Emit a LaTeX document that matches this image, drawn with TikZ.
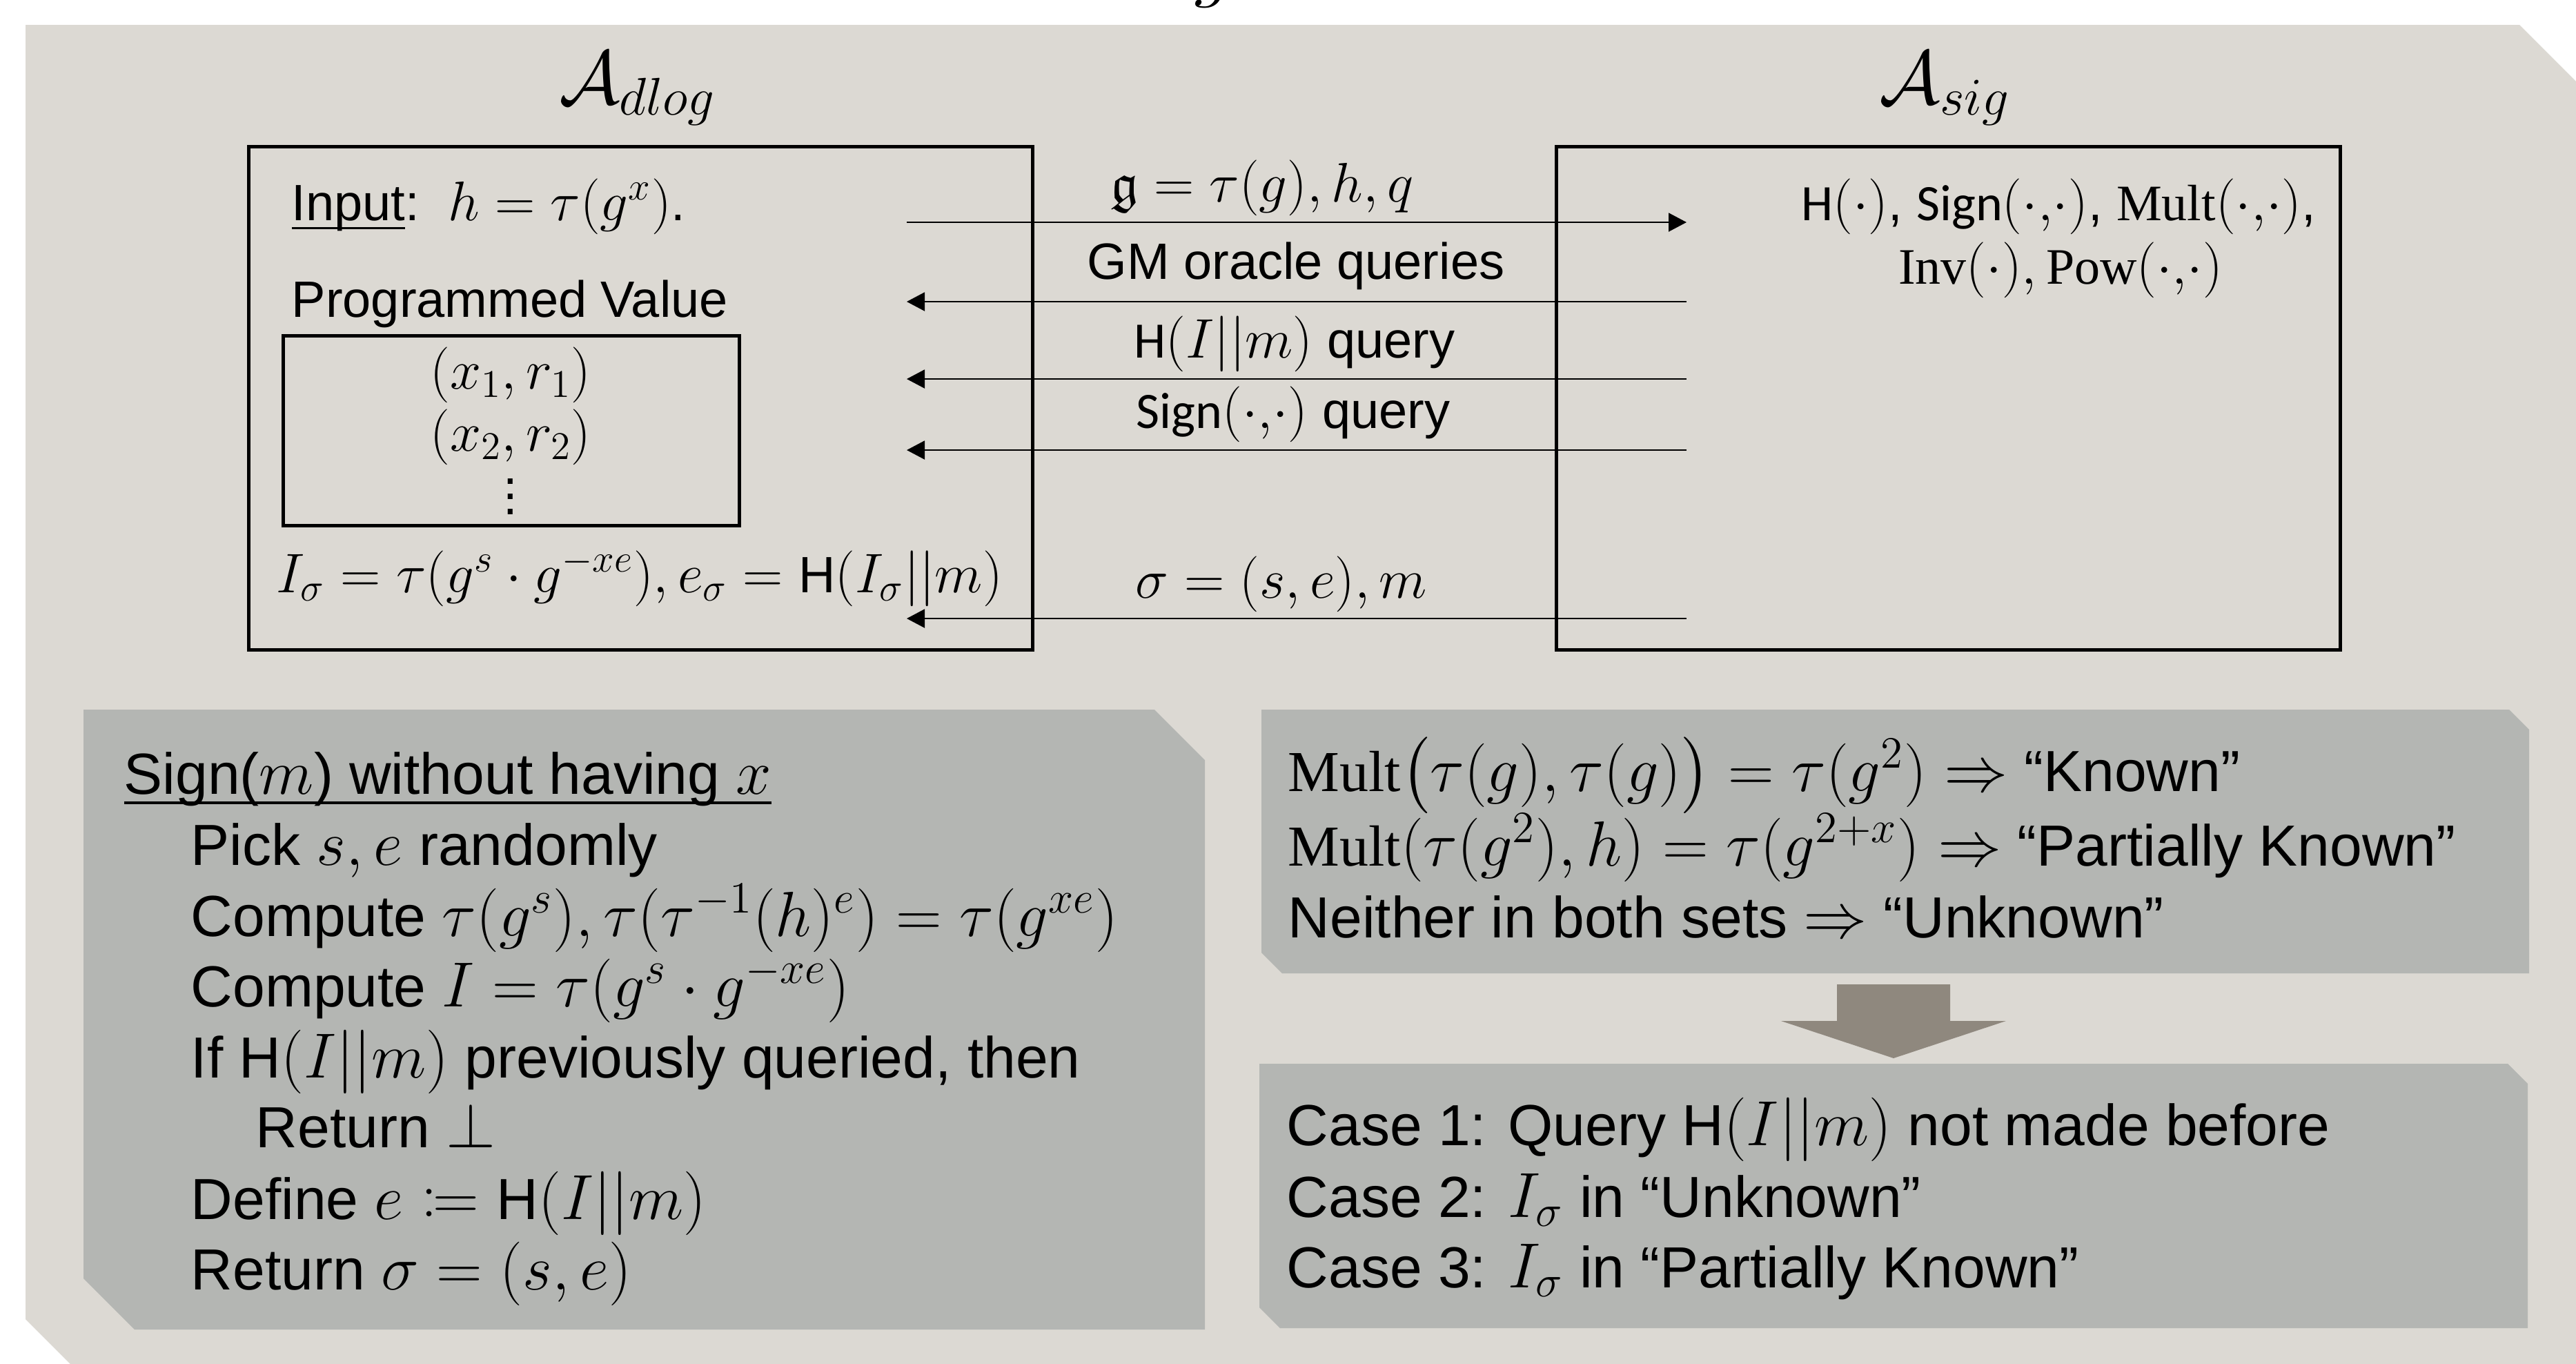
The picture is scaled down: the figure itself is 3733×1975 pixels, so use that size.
\RequirePackage{fix-cm}
\documentclass[tikz,border=0pt]{standalone}
\usepackage{amssymb}
\usepackage{mathtools}
\usepackage[no-math]{fontspec}
\setmainfont{Liberation Sans}
\newfontfamily\calibri{Carlito}
\newfontfamily\serifup{Liberation Serif}
\usetikzlibrary{arrows.meta,fit,calc}
\definecolor{panelbg}{RGB}{220,217,211}
\definecolor{boxgray}{RGB}{180,182,179}
\definecolor{bigarrow}{RGB}{143,136,126}
% formulas are set a little larger than the surrounding words
\DeclareMathSizes{18.5}{20.2}{14.2}{10.1}
\DeclareMathSizes{21}{23.1}{16.2}{11.6}
\DeclareMathSizes{25}{27.5}{19.2}{13.8}
% upright operation names inside formulas
\newcommand\opname[1]{\mathord{\text{\serifup #1}}}
% two-argument placeholder without space after the comma
\newcommand\twoargs{(\cdot{,}\cdot)}
% three stacked dots, spaced for the large type
\newcommand\dotcol{\vbox{\baselineskip=5.5pt\lineskiplimit=0pt\hbox{.}\hbox{.}\hbox{.}}}

\begin{document}
\begin{tikzpicture}[x=0.25pt,y=-0.25pt,
  txt/.style={inner sep=0pt, font=\fontsize{18.5}{22}\selectfont},
  bigtxt/.style={inner sep=0pt, font=\fontsize{21}{25}\selectfont},
  headtxt/.style={inner sep=0pt, font=\fontsize{25}{30}\selectfont},
  boxframe/.style={draw, line width=1.25pt, inner sep=0pt},
  msg/.style={line width=0.5pt, -{Triangle[length=6.5pt,width=6.75pt]}},
]
\useasboundingbox (0,0) rectangle (3733,1975);
\fill[white] (0,0) rectangle (3733,1975);

% descender of a heading letter above the frame
\node[headtxt, anchor=base] (cutg) at (1758,-11) {$g$};

% light background panel with two snipped corners
\fill[panelbg] (37,36) -- (3651,36) -- (3851,236) -- (3851,2100)
  -- (226,2100) -- (37,1911) -- cycle;

% grey panels
\fill[boxgray] (121,1028) -- (1673,1028) -- (1746,1101) -- (1746,1926)
  -- (195,1926) -- (121,1852) -- cycle;
\fill[boxgray] (1828,1028) -- (3636,1028) -- (3665,1057) -- (3665,1410)
  -- (1858,1410) -- (1828,1380) -- cycle;
\fill[boxgray] (1825,1541) -- (3634,1541) -- (3663,1570) -- (3663,1924)
  -- (1855,1924) -- (1825,1894) -- cycle;

% block arrow between the right panels
\fill[bigarrow] (2662,1426) -- (2826,1426) -- (2826,1479) -- (2907,1479)
  -- (2744,1533) -- (2581,1479) -- (2662,1479) -- cycle;

% headings
\node[headtxt, anchor=base] (tdlog) at (924,150) {$\mathcal{A}_{dlog}$};
\node[headtxt, anchor=base] (tsig) at (2818,150) {$\mathcal{A}_{sig}$};

% the two adversary boxes
\node[boxframe, fit={(360,212) (1496,941)}] (dlog) {};
\node[boxframe, fit={(2255,212) (3391,941)}] (sig) {};
\node[boxframe, fit={(410,486) (1071,761)}] (pv) {};

% contents of the left box
\node[txt, anchor=base west] (inp) at (422,319) {\underline{\smash{Input}}:\ \ $h = \tau(g^x)$.};
\node[txt, anchor=base west] (pvt) at (422,459) {Programmed Value};
\node[txt, anchor=base] (p1) at (740,563) {$(x_1,r_1)$};
\node[txt, anchor=base] (p2) at (740,653) {$(x_2,r_2)$};
\node[txt, anchor=center] (p3) at (740,720) {\dotcol};
\node[txt, anchor=base west] (isig) at (400,858)
  {$I_\sigma = \tau(g^s\cdot g^{-xe}), e_\sigma = {}$H$(I_\sigma||m)$};

% contents of the right box
\node[txt, anchor=base] (ops1) at (2983,319)
  {{\calibri H}$(\cdot)$, {\calibri Sign}$\twoargs$, $\opname{Mult}\twoargs$,};
\node[txt, anchor=base] (ops2) at (2986,411)
  {$\opname{Inv}(\cdot), \opname{Pow}\twoargs$};

% message end points
\coordinate (m1l) at (1314,322); \coordinate (m1r) at (2444,322);
\coordinate (m2l) at (1314,437); \coordinate (m2r) at (2444,437);
\coordinate (m3l) at (1314,549); \coordinate (m3r) at (2444,549);
\coordinate (m4l) at (1314,652); \coordinate (m4r) at (2444,652);
\coordinate (m5l) at (1314,896); \coordinate (m5r) at (2444,896);

\draw[msg] (m1l) -- (m1r);
\draw[msg] (m2r) -- (m2l);
\draw[msg] (m3r) -- (m3l);
\draw[msg] (m4r) -- (m4l);
\draw[msg] (m5r) -- (m5l);

\node[txt, anchor=base] (lab1) at (1829,292) {$\mathfrak{g} = \tau(g), h, q$};
\node[txt, anchor=base] (lab2) at (1878,404) {GM oracle queries};
\node[txt, anchor=base] (lab3) at (1876,518) {{\calibri H}$(I||m)$ query};
\node[txt, anchor=base] (lab4) at (1874,620) {{\calibri Sign}$\twoargs$ query};
\node[txt, anchor=base] (lab5) at (1857,866) {$\sigma = (s,e), m$};

% signing simulation
\node[bigtxt, anchor=base west] (s1) at (179,1150) {\underline{\smash{Sign($m$) without having $x$}}};
\node[bigtxt, anchor=base west] (s2) at (276,1253) {Pick $s,e$ randomly};
\node[bigtxt, anchor=base west] (s3) at (276,1356) {Compute $\tau(g^s), \tau(\tau^{-1}(h)^e) = \tau(g^{xe})$};
\node[bigtxt, anchor=base west] (s4) at (276,1458) {Compute $I = \tau(g^s\cdot g^{-xe})$};
\node[bigtxt, anchor=base west] (s5) at (276,1561) {If H$(I||m)$ previously queried, then};
\node[bigtxt, anchor=base west] (s6) at (370,1662) {Return $\bot$};
\node[bigtxt, anchor=base west] (s7) at (276,1766) {Define $e \coloneqq {}$H$(I||m)$};
\node[bigtxt, anchor=base west] (s8) at (276,1868) {Return $\sigma = (s,e)$};

% classification of group elements
\node[bigtxt, anchor=base west] (k1) at (1866,1146)
  {$\opname{Mult}\bigl(\tau(g),\tau(g)\bigr) = \tau(g^2) \Rightarrow$ “Known”};
\node[bigtxt, anchor=base west] (k2) at (1866,1254)
  {$\opname{Mult}(\tau(g^2),h) = \tau(g^{2+x}) \Rightarrow$ “Partially Known”};
\node[bigtxt, anchor=base west] (k3) at (1866,1358)
  {Neither in both sets $\Rightarrow$ “Unknown”};

% cases
\node[bigtxt, anchor=base west] (c1) at (1864,1659) {Case 1: Query H$(I||m)$ not made before};
\node[bigtxt, anchor=base west] (c2) at (1864,1763) {Case 2: $I_\sigma$ in “Unknown”};
\node[bigtxt, anchor=base west] (c3) at (1864,1865) {Case 3: $I_\sigma$ in “Partially Known”};
\end{tikzpicture}
\end{document}
